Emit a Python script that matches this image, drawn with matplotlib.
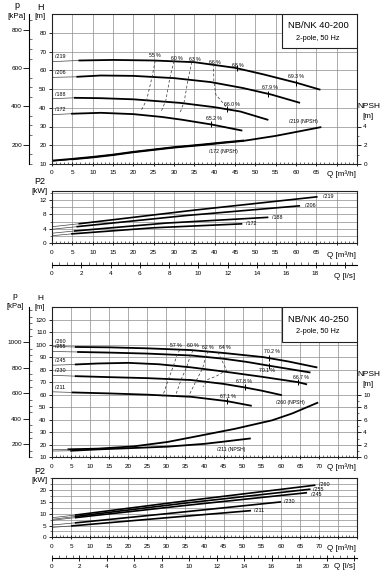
import numpy as np
import matplotlib
matplotlib.use('Agg')
import matplotlib.pyplot as plt
from matplotlib.patches import Rectangle
from matplotlib.ticker import MultipleLocator, FixedLocator

plt.rcParams['font.family'] = ['Liberation Sans', 'DejaVu Sans']

# ---------------- DATA: NB/NK 40-200 ----------------
q219 = [0, 6.5, 15, 25, 35, 45, 52, 60, 66]
h219 = [64.6, 65.2, 65.5, 65.2, 64.3, 61.3, 57.8, 53.4, 49.6]
q206 = [0, 6, 12, 20, 30, 39, 47, 54, 61]
h206 = [56.2, 56.5, 57.2, 57.0, 55.8, 53.7, 50.5, 47.0, 42.6]
q188 = [0, 5.4, 12, 20, 31.5, 40, 46.3, 53.2]
h188 = [44.8, 45.3, 45.1, 44.5, 42.6, 40.3, 38.0, 33.5]
q172 = [0, 4.7, 12, 20, 27, 32, 39.4, 46.8]
h172 = [36.3, 36.8, 37.3, 36.6, 35.1, 33.6, 31.0, 27.8]

qn219 = [0, 5, 10, 15, 20, 25, 30, 36.5, 42, 47, 55, 61, 66]
nn219 = [0.32, 0.5, 0.7, 0.95, 1.25, 1.5, 1.75, 2.0, 2.25, 2.46, 3.0, 3.5, 3.92]
qn172 = [0, 5, 10, 15, 20, 25, 30, 36.5, 42, 47]
nn172 = [0.36, 0.55, 0.76, 1.0, 1.3, 1.55, 1.8, 2.06, 2.3, 2.5]

e55_q = [25.4, 24.6, 23.3, 21.8]; e55_h = [65.2, 56.4, 44.3, 38.0]
e60_q = [30.0, 29.0, 28.0, 26.8]; e60_h = [64.9, 56.2, 43.9, 37.8]
e63_q = [34.4, 33.5, 32.5, 31.5]; e63_h = [64.4, 55.6, 43.2, 37.5]
e66_q = [39.7, 39.8, 40.3, 43.0]; e66_h = [63.4, 54.0, 47.0, 40.0]

top_eff_labels = ['55 %', '60 %', '63 %', '66 %', '68 %', '69.3 %', '67.9 %', '66.0 %', '65.2 %']
top_eff_q = [25.4, 30.7, 35.0, 40.1, 45.8, 60.1, 53.7, 44.3, 39.7]
top_eff_h = [67.8, 66.5, 65.6, 64.2, 62.6, 56.7, 50.6, 41.6, 34.4]
top_bep_curve = ['219', '219', '206', '188', '172']
top_bep_q = [45.6, 60.0, 53.0, 43.0, 39.0]

qp219 = [0, 6.5, 35, 65.3]; p219 = [4.6, 5.4, 9.2, 12.9]
qp206 = [0, 6, 33, 61];     p206 = [3.9, 4.6, 7.7, 10.4]
qp188 = [0, 5.4, 28, 53.2]; p188 = [2.8, 3.4, 5.6, 7.2]
qp172 = [0, 4.7, 25, 46.8]; p172 = [2.1, 2.6, 4.3, 5.4]

# ---------------- DATA: NB/NK 40-250 ----------------
q260 = [0, 6, 15, 25, 36.5, 45, 55.4, 62, 69.6]
h260 = [98.5, 98.1, 97.8, 97.0, 95.6, 93.3, 90.0, 86.5, 81.7]
q255 = [0, 6.6, 15, 25, 36.5, 45, 51, 56.8, 62, 67.8]
h255 = [94.5, 94.1, 93.6, 92.8, 91.3, 88.7, 86.2, 83.2, 80.6, 77.7]
q245 = [0, 6, 12, 20, 28, 36.5, 45, 55, 64.5, 66.9]
h245 = [83.5, 84.1, 84.9, 85.4, 84.3, 81.8, 78.5, 74.3, 70.0, 68.2]
q230 = [0, 6, 15, 25, 36.5, 45, 50.5, 55, 60.3]
h230 = [75.5, 74.8, 74.0, 73.2, 71.7, 68.6, 65.8, 63.2, 59.6]
q211 = [0, 5.2, 15, 25, 36.5, 45.8, 52.4]
h211 = [62.3, 61.8, 61.0, 60.0, 58.3, 54.9, 51.1]

qn260 = [0, 4.3, 12, 21.5, 30.3, 39.2, 48, 57.7, 63, 69.6]
nn260 = [1.2, 1.28, 1.38, 1.75, 2.45, 3.5, 4.55, 5.9, 7.0, 8.7]
qn211 = [0, 5, 12.7, 20, 30.3, 40, 45, 51.9]
nn211 = [1.0, 1.05, 1.28, 1.45, 1.7, 2.15, 2.5, 3.0]

e57_q = [33.5, 32.8, 31.8, 30.5, 29.0]; e57_h = [95.8, 91.7, 82.5, 72.0, 58.5]
e60b_q = [37.0, 36.3, 35.3, 33.8, 32.3]; e60b_h = [95.5, 91.2, 81.8, 71.6, 58.3]
e62_q = [41.0, 40.3, 39.5, 37.8, 35.7]; e62_h = [94.8, 90.4, 80.9, 71.0, 58.0]
e64_q = [43.5, 45.8, 43.1, 40.9, 39.6]; e64_h = [94.0, 79.6, 74.8, 72.2, 66.3]

bot_eff_labels = ['57 %', '60 %', '62 %', '64 %', '70.2 %', '70.1 %', '66.7 %', '67.8 %', '67.1 %']
bot_eff_q = [32.5, 36.9, 41.0, 45.2, 57.7, 56.3, 65.2, 50.4, 46.2]
bot_eff_h = [98.9, 98.9, 97.3, 97.3, 94.1, 79.6, 73.4, 70.8, 58.8]
bot_bep_curve = ['260', '255', '245', '230', '211']
bot_bep_q = [56.9, 56.8, 64.5, 50.5, 45.8]

qp260 = [0, 6, 35, 69.1]; p260 = [8.3, 9.4, 15.4, 22.1]
qp255 = [0, 6, 35, 67.8]; p255 = [7.6, 8.8, 14.5, 20.4]
qp245 = [0, 6, 35, 66.9]; p245 = [7.2, 8.3, 13.5, 18.9]
qp230 = [0, 6, 30, 60.1]; p230 = [5.2, 6.1, 10.0, 15.0]
qp211 = [0, 5, 28, 52.2]; p211 = [4.2, 4.8, 8.0, 11.3]

# ---------------- LAYOUT ----------------
W, HP = 389, 576
fig = plt.figure(figsize=(W / 100, HP / 100), dpi=100)
fig.patch.set_facecolor('white')

def rect(l, t, r, b):
    return [l / W, 1 - b / HP, (r - l) / W, (b - t) / HP]

def ftext(x, y, s, size, **kw):
    fig.text(x / W, 1 - y / HP, s, fontsize=size, ha=kw.pop('ha', 'center'),
             va=kw.pop('va', 'center'), **kw)

GRID = '#8c8c8c'
TICK_FS = 4.6

def style_box(ax):
    for s in ax.spines.values():
        s.set_linewidth(0.8)
        s.set_color('#222')

def setup_H(ax, ylim, qmax, qlabmax, pticks, nticks, nmax):
    ax.set_xlim(0, qmax)
    ax.set_ylim(*ylim)
    ax.set_xticks(range(0, qmax + 1, 5))
    ax.set_xticklabels([str(v) if v <= qlabmax else '' for v in range(0, qmax + 1, 5)])
    ax.xaxis.set_minor_locator(MultipleLocator(1))
    ax.set_yticks(list(range(ylim[0], ylim[1], 10)))
    ax.grid(True, which='major', color=GRID, lw=0.5)
    ax.tick_params(axis='both', which='major', labelsize=TICK_FS, length=2.5,
                   width=0.6, pad=1.5, direction='out')
    ax.tick_params(axis='x', which='major', direction='inout', length=3, pad=3)
    ax.tick_params(axis='x', which='minor', direction='in', length=1.5, width=0.4)
    style_box(ax)
    # pressure axis
    loc = (29 - 52) / (357 - 52)
    sp = ax.secondary_yaxis(loc, functions=(lambda h: h * 9.81, lambda p: p / 9.81))
    sp.set_yticks(pticks)
    sp.yaxis.set_minor_locator(MultipleLocator(50))
    sp.tick_params(which='major', labelsize=TICK_FS, length=4, width=0.6, pad=1, direction='out')
    sp.tick_params(which='minor', length=2, width=0.4, direction='in')
    sp.spines['left'].set_linewidth(0.8)
    # NPSH axis
    sn = ax.secondary_yaxis('right', functions=(lambda h: (h - 10) / 5, lambda n: n * 5 + 10))
    sn.set_yticks(nticks)
    sn.yaxis.set_minor_locator(FixedLocator([v + 1 for v in nticks if v + 1 <= nmax]))
    sn.tick_params(which='major', labelsize=TICK_FS, length=3, width=0.6, pad=1.5, direction='out')
    sn.tick_params(which='minor', length=1.5, width=0.4, direction='out')
    sn.spines['right'].set_visible(False)

def setup_P(ax, qmax, qlabmax, ymax, yticks, ygrid):
    ax.set_xlim(0, qmax)
    ax.set_ylim(0, ymax)
    ax.set_xticks(range(0, qmax + 1, 5))
    ax.set_xticklabels([str(v) if v <= qlabmax else '' for v in range(0, qmax + 1, 5)])
    ax.xaxis.set_minor_locator(MultipleLocator(1))
    ax.set_yticks(yticks)
    ax.yaxis.set_minor_locator(MultipleLocator(ygrid))
    ax.grid(True, which='major', color=GRID, lw=0.5)
    ax.grid(True, which='minor', axis='y', color=GRID, lw=0.5)
    ax.tick_params(axis='both', which='major', labelsize=TICK_FS, length=2.5,
                   width=0.6, pad=1.5, direction='out')
    ax.tick_params(axis='x', which='major', direction='inout', length=3, pad=3)
    ax.tick_params(axis='x', which='minor', direction='in', length=1.5, width=0.4)
    ax.tick_params(axis='y', which='minor', length=1.5, width=0.4)
    style_box(ax)

def setup_ls(ax, qmax, labmax):
    ax.set_xlim(0, qmax / 3.6)
    ax.set_ylim(0, 1)
    for s in ['top', 'left', 'right']:
        ax.spines[s].set_visible(False)
    ax.spines['bottom'].set_linewidth(0.8)
    ax.set_yticks([])
    ticks = list(range(0, int(qmax / 3.6) + 1, 2))
    ax.set_xticks(ticks)
    ax.set_xticklabels([str(t) if t <= labmax else '' for t in ticks])
    ax.xaxis.set_minor_locator(MultipleLocator(0.5))
    ax.tick_params(axis='x', which='major', labelsize=TICK_FS, length=4, width=0.6,
                   direction='inout', pad=2.5)
    ax.tick_params(axis='x', which='minor', length=2, width=0.4, direction='in')
    ax.patch.set_alpha(0)

def curve(ax, q, h, lw=1.3, label=None, dy=1.2):
    ax.plot(q[:2], h[:2], color='#444', lw=0.5)
    ax.plot(q[1:], h[1:], color='k', lw=lw, solid_capstyle='butt')
    if label:
        ax.text(0.7, h[0] + dy, label, fontsize=3.9, ha='left', va='bottom')

def pcurve(ax, q, p, label, dq, dp=0.0):
    ax.plot(q[:2], p[:2], color='#444', lw=0.5)
    ax.plot(q[1:], p[1:], color='k', lw=1.2, solid_capstyle='butt')
    ax.text(q[-1] + dq, p[-1] + dp, label, fontsize=3.9, ha='left', va='center')

def dashed(ax, q, h):
    ax.plot(q, h, color='#333', lw=0.5, ls=(0, (4, 3)))

def bep(ax, curves, names, qs):
    for n, qv in zip(names, qs):
        cq, ch = curves[n]
        hv = np.interp(qv, cq, ch)
        ax.plot([qv], [hv], marker='|', ms=4, mew=0.7, color='k')

# ---------- TOP CHART ----------
axH1 = fig.add_axes(rect(52, 14, 357, 164))
setup_H(axH1, (10, 90), 75, 65, [200, 400, 600, 800], [0, 2, 4], 4)
curve(axH1, q219, h219, label='/219')
curve(axH1, q206, h206, label='/206')
curve(axH1, q188, h188, label='/188')
curve(axH1, q172, h172, label='/172')
axH1.plot(qn219[1:], [10 + 5 * v for v in nn219[1:]], color='k', lw=1.3)
axH1.plot(qn219[:2], [10 + 5 * v for v in nn219[:2]], color='k', lw=0.9)
axH1.plot(qn172, [10 + 5 * v for v in nn172], color='k', lw=1.3)
for qq, hh in [(e55_q, e55_h), (e60_q, e60_h), (e63_q, e63_h), (e66_q, e66_h)]:
    dashed(axH1, qq, hh)
for s, qv, hv in zip(top_eff_labels, top_eff_q, top_eff_h):
    axH1.text(qv, hv, s, fontsize=3.7, ha='center', va='center')
bep(axH1, {'219': (q219, h219), '206': (q206, h206), '188': (q188, h188), '172': (q172, h172)},
    top_bep_curve, top_bep_q)
axH1.text(61.8, 32.5, '/219 (NPSH)', fontsize=3.7, ha='center', va='center')
axH1.text(42.2, 16.4, '/172 (NPSH)', fontsize=3.7, ha='center', va='center')
axH1.add_patch(Rectangle((0.754, 0.773), 0.246, 0.227, transform=axH1.transAxes,
                         facecolor='white', edgecolor='#222', lw=0.8, zorder=5))
axH1.text(0.872, 0.92, 'NB/NK 40-200', transform=axH1.transAxes, fontsize=6.8,
          ha='center', va='center', zorder=6)
axH1.text(0.872, 0.84, '2-pole, 50 Hz', transform=axH1.transAxes, fontsize=5.3,
          ha='center', va='center', zorder=6)

axP1 = fig.add_axes(rect(52, 191, 357, 243.3))
setup_P(axP1, 75, 65, 14.5, [0, 4, 8, 12], 2)
pcurve(axP1, qp219, p219, '/219', 1.3)
pcurve(axP1, qp206, p206, '/206', 1.3)
pcurve(axP1, qp188, p188, '/188', 1.0)
pcurve(axP1, qp172, p172, '/172', 1.0)

axL1 = fig.add_axes(rect(52, 255, 357, 265))
setup_ls(axL1, 75, 18)

ftext(17, 6, 'p', 6.5)
ftext(17, 16, '[kPa]', 5.8)
ftext(40, 7, 'H', 6.5)
ftext(40, 16, '[m]', 5.8)
ftext(369, 106, 'NPSH', 6.0)
ftext(368, 117, '[m]', 5.8)
ftext(341, 174, 'Q [m³/h]', 5.8)
ftext(40, 182, 'P2', 6.5)
ftext(39, 192, '[kW]', 5.8)
ftext(341, 255, 'Q [m³/h]', 5.8)
ftext(345, 276, 'Q [l/s]', 5.8)

# ---------- BOTTOM CHART ----------
axH2 = fig.add_axes(rect(52, 307, 357, 457.3))
setup_H(axH2, (10, 130), 80, 70, [200, 400, 600, 800, 1000], [0, 2, 4, 6, 8, 10], 10)
curve(axH2, q260, h260, label='/260', dy=1.6)
curve(axH2, q255, h255, label='/255', dy=1.6)
curve(axH2, q245, h245, label='/245', dy=1.6)
curve(axH2, q230, h230, label='/230', dy=1.6)
curve(axH2, q211, h211, label='/211', dy=1.6)
axH2.plot(qn260[1:], [10 + 5 * v for v in nn260[1:]], color='k', lw=1.3)
axH2.plot(qn260[:2], [10 + 5 * v for v in nn260[:2]], color='#444', lw=0.5)
axH2.plot(qn211[1:], [10 + 5 * v for v in nn211[1:]], color='k', lw=1.3)
axH2.plot(qn211[:2], [10 + 5 * v for v in nn211[:2]], color='#444', lw=0.5)
for qq, hh in [(e57_q, e57_h), (e60b_q, e60b_h), (e62_q, e62_h), (e64_q, e64_h)]:
    dashed(axH2, qq, hh)
for s, qv, hv in zip(bot_eff_labels, bot_eff_q, bot_eff_h):
    axH2.text(qv, hv, s, fontsize=3.7, ha='center', va='center')
bep(axH2, {'260': (q260, h260), '255': (q255, h255), '245': (q245, h245),
           '230': (q230, h230), '211': (q211, h211)}, bot_bep_curve, bot_bep_q)
axH2.text(62.6, 53.5, '/260 (NPSH)', fontsize=3.7, ha='center', va='center')
axH2.text(47.1, 16.4, '/211 (NPSH)', fontsize=3.7, ha='center', va='center')
axH2.add_patch(Rectangle((0.754, 0.767), 0.246, 0.233, transform=axH2.transAxes,
                         facecolor='white', edgecolor='#222', lw=0.8, zorder=5))
axH2.text(0.872, 0.92, 'NB/NK 40-250', transform=axH2.transAxes, fontsize=6.8,
          ha='center', va='center', zorder=6)
axH2.text(0.872, 0.834, '2-pole, 50 Hz', transform=axH2.transAxes, fontsize=5.3,
          ha='center', va='center', zorder=6)

axP2 = fig.add_axes(rect(52, 478.3, 357, 537.3))
setup_P(axP2, 80, 70, 25, [0, 5, 10, 15, 20], 2.5)
pcurve(axP2, qp260, p260, '/260', 1.0, 0.3)
pcurve(axP2, qp255, p255, '/255', 0.6, 0.0)
pcurve(axP2, qp245, p245, '/245', 1.0, -0.9)
pcurve(axP2, qp230, p230, '/230', 0.8)
pcurve(axP2, qp211, p211, '/211', 0.8)

axL2 = fig.add_axes(rect(52, 548, 357, 558))
setup_ls(axL2, 80, 20)

ftext(15, 296.5, 'p', 6.0)
ftext(15, 306.5, '[kPa]', 5.5)
ftext(40, 298, 'H', 6.0)
ftext(40, 307.5, '[m]', 5.5)
ftext(369, 374, 'NPSH', 6.0)
ftext(368, 384, '[m]', 5.8)
ftext(341, 467, 'Q [m³/h]', 5.8)
ftext(40, 472, 'P2', 6.5)
ftext(39, 481, '[kW]', 5.8)
ftext(341, 548, 'Q [m³/h]', 5.8)
ftext(345, 567, 'Q [l/s]', 5.8)

fig.savefig('out.png', dpi=100, facecolor='white')
